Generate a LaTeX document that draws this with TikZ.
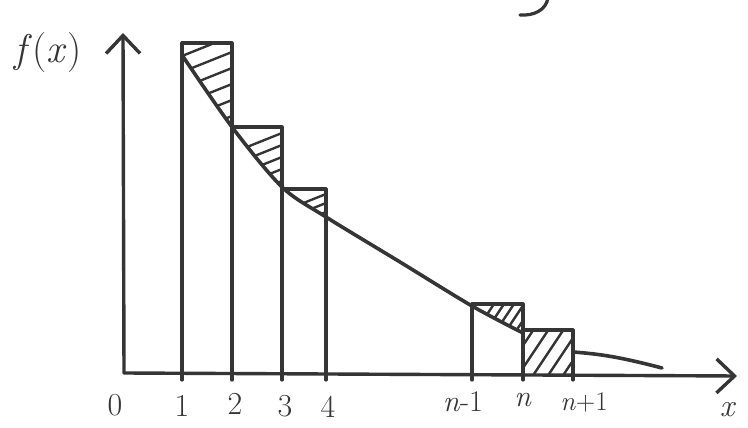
\documentclass[tikz,border=0pt]{standalone}
\usepackage{fontspec}
\usetikzlibrary{arrows.meta}
\definecolor{ink}{HTML}{353535}
\tikzset{
  axisline/.style={draw=ink, line width=3.4pt, line cap=round,
    -{Straight Barb[length=18pt,width=34pt,line width=3.4pt]}},
  edge/.style={draw=ink, line width=3.2pt, line cap=round, line join=round},
  curveline/.style={draw=ink, line width=3.6pt, line cap=round},
  hatch/.style={draw=ink, line width=2.4pt},
  lbl/.style={text=ink, inner sep=0pt},
}
\begin{document}
\begin{tikzpicture}[x=1pt,y=-1pt]
\useasboundingbox[fill=white] (0,0) rectangle (748,428);
% named points
\coordinate (O) at (124,373);
\coordinate (ytip) at (123,33);
\coordinate (xtip) at (737,376);
% hatching
\begin{scope}
  \clip (182,43) -- (232,43) -- (232,127) -- (182,55) -- cycle;
  \foreach \y in {36,52,68,84,100,116} \draw[hatch] (132,{\y+40}) -- (272,{\y-16});
\end{scope}
\begin{scope}
  \clip (232,127) -- (282,127) -- (282,188) -- cycle;
  \foreach \y in {133,145,157,169,181} \draw[hatch] (182,{\y+40}) -- (322,{\y-16});
\end{scope}
\begin{scope}
  \clip (282,189) -- (326,189) -- (326,217) -- cycle;
  \foreach \y in {194,203,212} \draw[hatch] (226,{\y+40}) -- (366,{\y-16});
\end{scope}
\begin{scope}
  \clip (472,304) -- (523,304) -- (523,333) -- (472,308) -- cycle;
  \foreach \x in {470,480,490,500,510,520} \draw[hatch] (\x,340) -- ({\x+30},295);
\end{scope}
\begin{scope}
  \clip (523,330) rectangle (573,373);
  \foreach \x in {500,515,530,545,560,575} \draw[hatch] (\x,380) -- ({\x+36},326);
\end{scope}
% axes
\draw[axisline] (O) -- (ytip);
\draw[axisline] (O) -- (xtip);
% rectangles
\draw[edge] (182,380) -- (182,43) -- (232,43) -- (232,380);
\draw[edge] (232,127) -- (282,127) -- (282,380);
\draw[edge] (282,189) -- (326,189) -- (326,380);
\draw[edge] (472,380) -- (472,304) -- (523,304) -- (523,380);
\draw[edge] (523,330) -- (573,330) -- (573,380);
% curve
\draw[curveline] plot[smooth,tension=0.5] coordinates
  {(182,55) (232,127) (282,187) (326,217) (400,262) (472,306) (523,333)};
\draw[curveline] (573,352) .. controls (600,354) and (620,357) .. (662,368);
% cut-off stroke at top
\draw[edge] (548,-2) .. controls (546,10) and (534,16) .. (520,15);
% labels
\node[lbl, font=\fontsize{40}{44}\selectfont] (fx) at (48,53) {\textit{f}(\textit{x})};
\node[lbl, font=\fontsize{32}{34}\selectfont] (l0) at (115,405) {0};
\node[lbl, font=\fontsize{32}{34}\selectfont] (l1) at (182,406) {1};
\node[lbl, font=\fontsize{32}{34}\selectfont] (l2) at (235,404) {2};
\node[lbl, font=\fontsize{32}{34}\selectfont] (l3) at (285,406) {3};
\node[lbl, font=\fontsize{32}{34}\selectfont] (l4) at (328,407) {4};
\node[lbl, font=\fontsize{30}{32}\selectfont] (lnm) at (463,402) {\textit{n}-1};
\node[lbl, font=\fontsize{30}{32}\selectfont] (ln) at (523,400) {\textit{n}};
\node[lbl, font=\fontsize{27}{29}\selectfont] (lnp) at (584,402) {\textit{n}+1};
\node[lbl, font=\fontsize{32}{34}\selectfont] (lx) at (728,410) {\textit{x}};
\end{tikzpicture}
\end{document}
